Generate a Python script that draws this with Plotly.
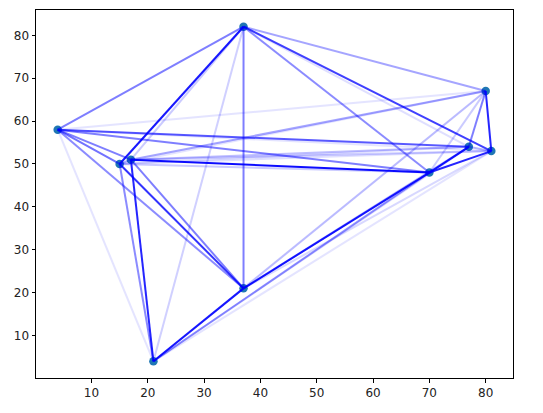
import plotly.graph_objects as go

# city coordinates
xs = [4, 15, 17, 21, 37, 37, 70, 77, 80, 81]
ys = [58, 50, 51, 4, 82, 21, 48, 54, 67, 53]

# edges (i, j) and their weight (drawn as line opacity)
edge_from = [0, 0, 0, 0, 0, 0, 0, 0, 0,
             1, 1, 1, 1, 1, 1, 1, 1,
             2, 2, 2, 2, 2, 2, 2,
             3, 3, 3, 3, 3, 3,
             4, 4, 4, 4, 4,
             5, 5, 5, 5,
             6, 6, 6,
             7, 7,
             8]
edge_to = [1, 2, 3, 4, 5, 6, 7, 8, 9,
           2, 3, 4, 5, 6, 7, 8, 9,
           3, 4, 5, 6, 7, 8, 9,
           4, 5, 6, 7, 8, 9,
           5, 6, 7, 8, 9,
           6, 7, 8, 9,
           7, 8, 9,
           8, 9,
           9]
weights = [0.55, 0.5, 0.1, 0.5, 0.45, 0.5, 0.65, 0.1, 0.1,
           0.3, 0.45, 0.9, 0.8, 0.2, 0.12, 0.1, 0.12,
           0.85, 0.2, 0.5, 0.95, 0.25, 0.35, 0.2,
           0.18, 0.9, 0.4, 0.15, 0.1, 0.1,
           0.5, 0.45, 0.12, 0.35, 0.75,
           0.9, 0.3, 0.18, 0.15,
           0.9, 0.2, 0.85,
           0.5, 0.3,
           0.85]

fig = go.Figure()
fig.add_trace(go.Scatter(x=xs, y=ys, mode="markers",
                         marker=dict(color="#1f77b4", size=8.5), hoverinfo="skip"))
for i, j, w in zip(edge_from, edge_to, weights):
    fig.add_trace(go.Scatter(x=[xs[i], xs[j]], y=[ys[i], ys[j]], mode="lines",
                             line=dict(color="blue", width=2), opacity=w))

axis = dict(showgrid=False, zeroline=False, showline=True, linecolor="black",
            linewidth=1, mirror=True, ticks="outside", ticklen=3.5,
            tickcolor="black", dtick=10, tick0=0, automargin=False)
fig.update_layout(
    width=543, height=413, showlegend=False,
    margin=dict(l=36, r=30, t=10, b=35, autoexpand=False),
    plot_bgcolor="white", paper_bgcolor="white",
    font=dict(family="DejaVu Sans", size=12, color="#222"),
    xaxis=dict(range=[0.15, 84.85], **axis),
    yaxis=dict(range=[0.1, 85.9], **axis),
)
# page body has a default 8px margin; drop it so the figure sits at the corner
fig.write_html("out.html", config={"displayModeBar": False},
               post_script="document.body.style.margin='0';")
